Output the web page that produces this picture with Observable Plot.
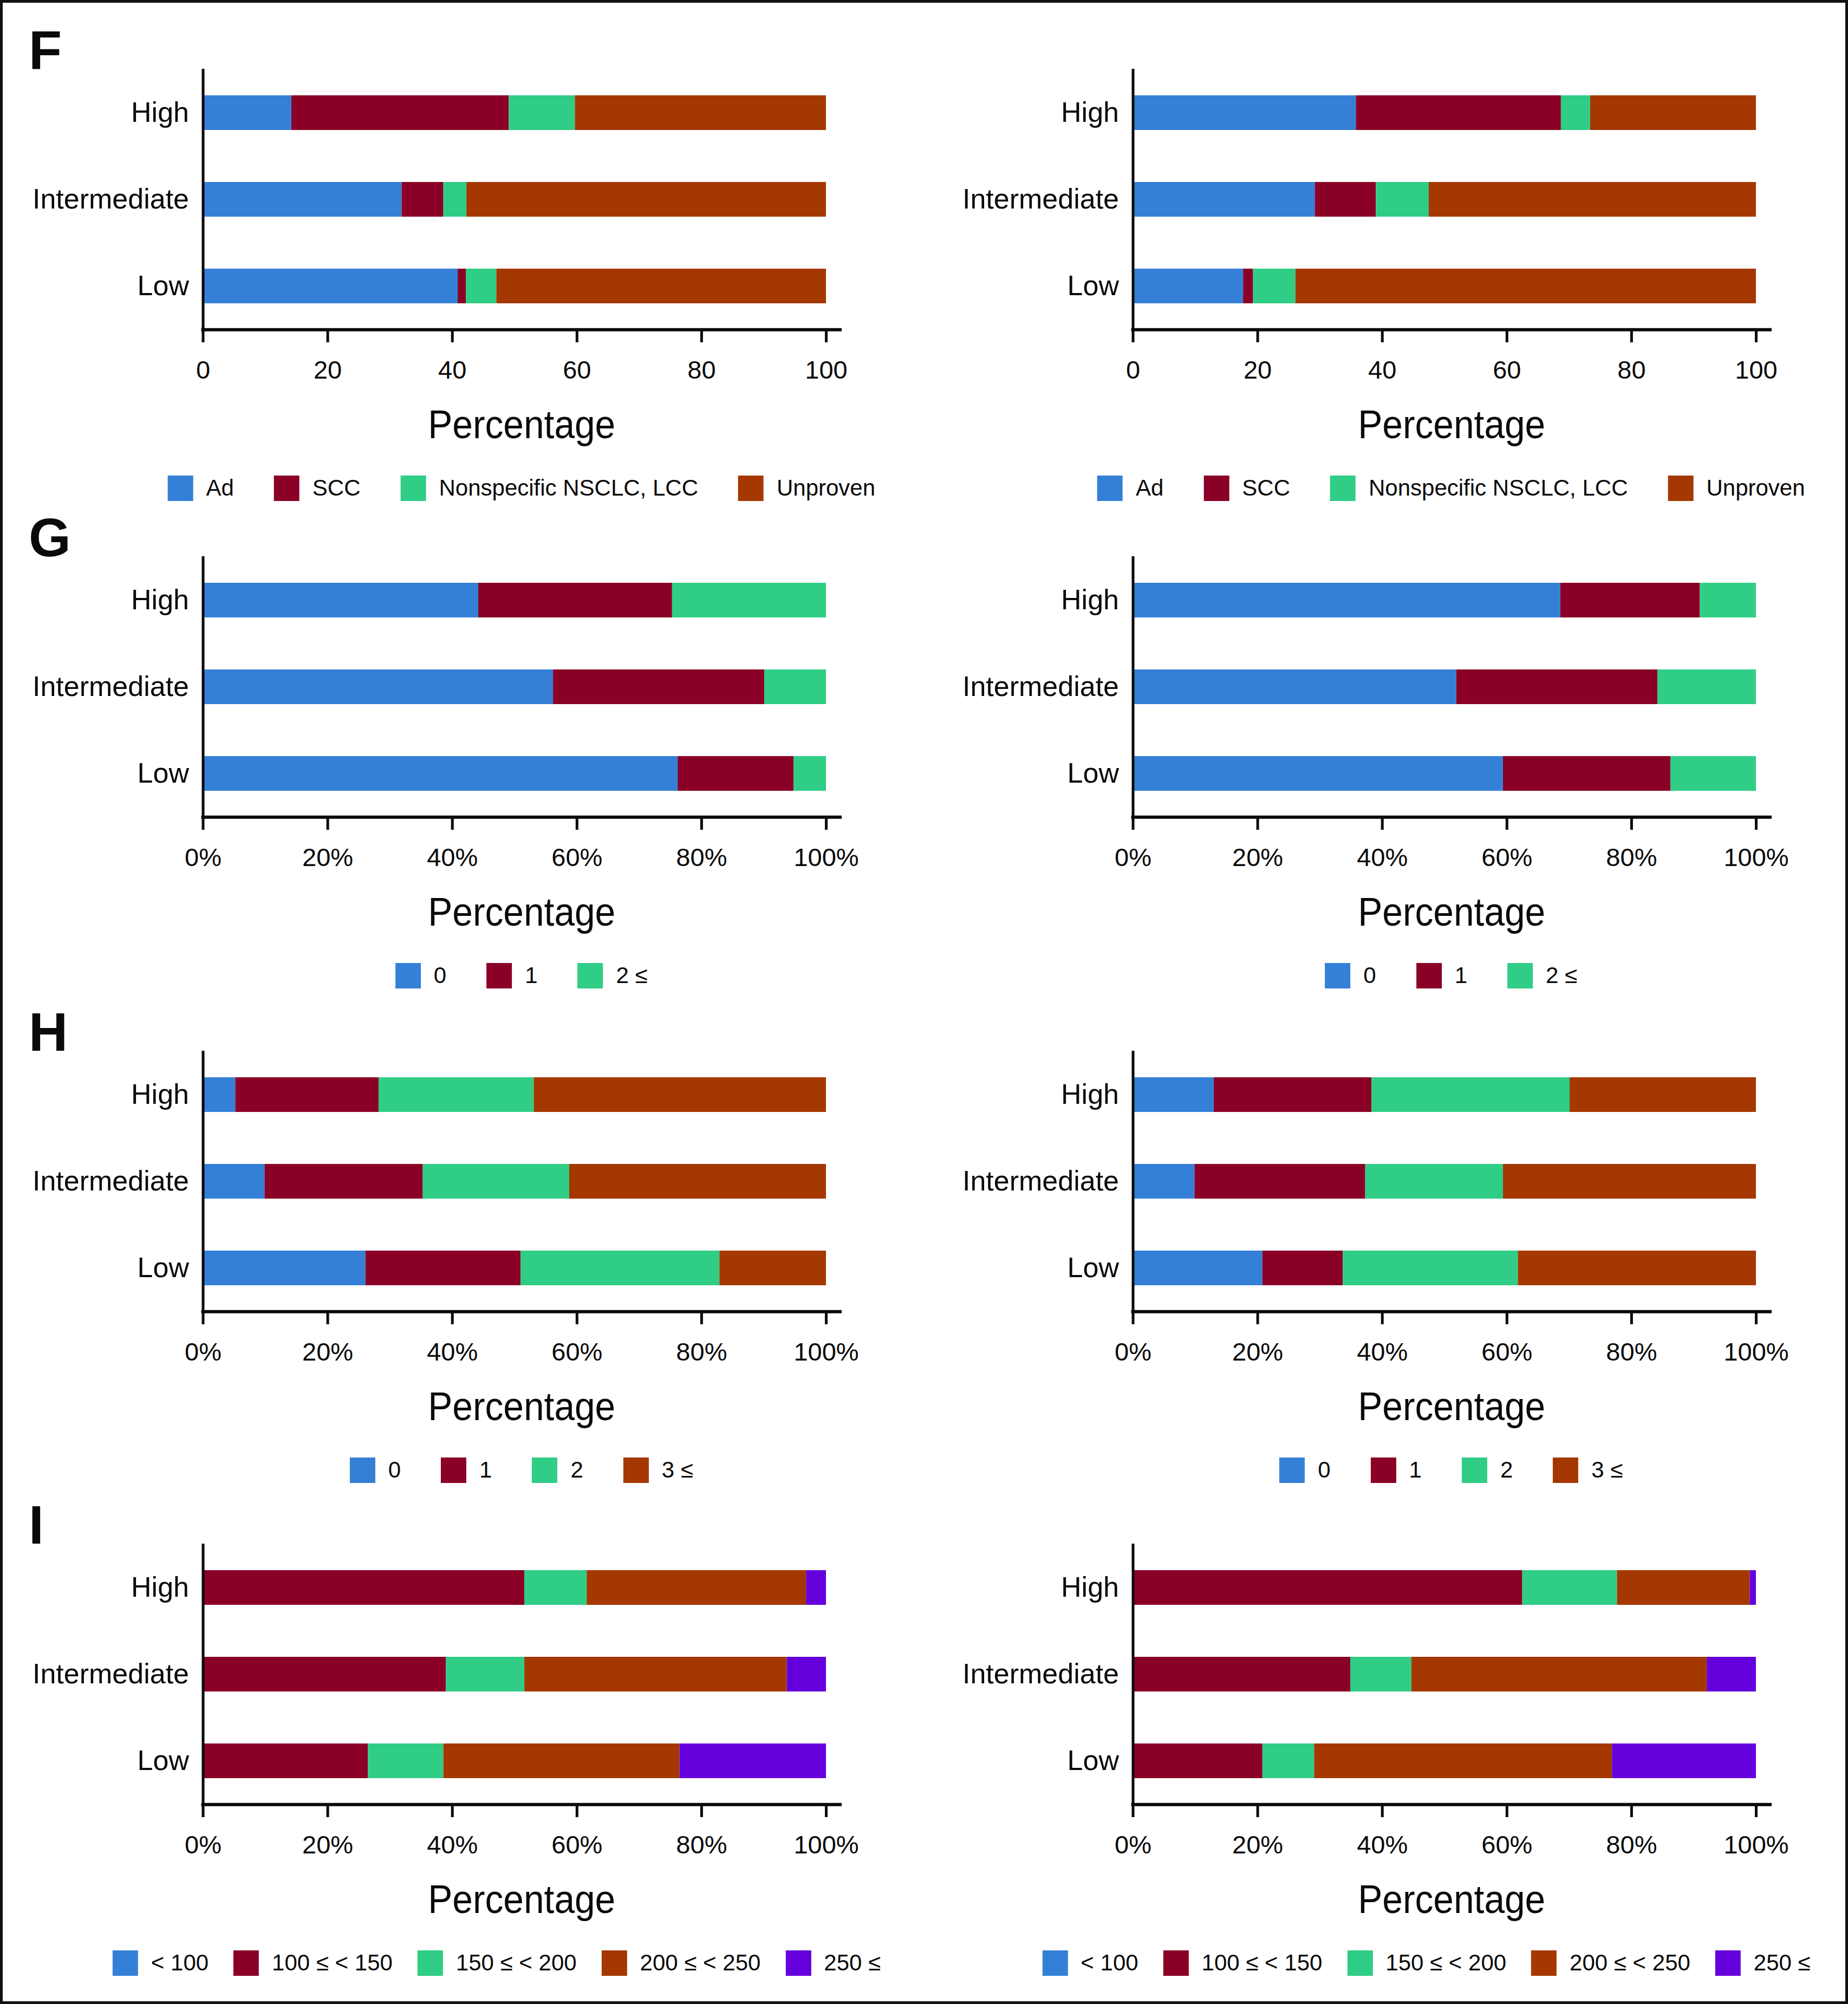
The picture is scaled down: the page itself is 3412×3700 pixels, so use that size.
<!DOCTYPE html>
<html>
<head>
<meta charset="utf-8">
<script src="https://cdn.jsdelivr.net/npm/d3@7"></script>
<script src="https://cdn.jsdelivr.net/npm/@observablehq/plot@0.6"></script>
<style>
html, body { margin: 0; padding: 0; background: #fff; }
#page { position: relative; width: 3412px; height: 3700px; overflow: hidden; background: #fff;
  font-family: "Liberation Sans", Arial, Helvetica, sans-serif; color: #0a0a0a; }
#frame { position: absolute; left: 0; top: 0; width: 3412px; height: 3700px; box-sizing: border-box;
  border: 5px solid #111; pointer-events: none; }
.pnl { position: absolute; }
.pnl svg g[aria-label^="y-axis"] text { font-size: 52px; }
.pnl svg g[aria-label^="x-axis"] line, .pnl svg g[aria-label^="x-axis"] path { stroke-width: 5px; stroke: #0a0a0a; }
.letter { position: absolute; font-weight: bold; font-size: 100px; line-height: 100px; }
.lgd { position: absolute; transform: translateX(-50%); width: max-content; white-space: nowrap; }
.lgd > div { font-family: "Liberation Sans", Arial, Helvetica, sans-serif !important; font-size: 42px !important;
  margin: 0 !important; min-height: 0 !important; flex-wrap: nowrap !important; color: #0a0a0a !important; }
.lgd [class$="-swatch"] { margin-right: 74px !important; }
.lgd.tight [class$="-swatch"] { margin-right: 46px !important; }
.lgd [class$="-swatch"]:last-child { margin-right: 0 !important; }
.lgd [class$="-swatch"] > svg { margin-right: 24px !important; }
</style>
</head>
<body>
<div id="page"><div id="frame"></div></div>
<script>
// ---------- data ----------
const groups = ["High", "Intermediate", "Low"];

const histCats = ["Ad", "SCC", "Nonspecific NSCLC, LCC", "Unproven"];
const metCats = ["0", "1", "2 ≤"];
const nodeCats = ["0", "1", "2", "3 ≤"];
const tmCats = ["< 100", "100 ≤ < 150", "150 ≤ < 200", "200 ≤ < 250", "250 ≤"];

// rows follow groups: High, Intermediate, Low
const fLeft  = [[14.2, 34.9, 10.6, 40.3], [31.9, 6.7, 3.7, 57.7], [40.9, 1.3, 4.9, 52.9]];
const fRight = [[35.8, 32.9, 4.7, 26.6], [29.2, 9.8, 8.5, 52.5], [17.7, 1.6, 6.8, 73.9]];
const gLeft  = [[44.2, 31.1, 24.7], [56.2, 33.9, 9.9], [76.2, 18.6, 5.2]];
const gRight = [[68.6, 22.4, 9.0], [51.9, 32.3, 15.8], [59.4, 26.9, 13.7]];
const hLeft  = [[5.2, 23.0, 24.9, 46.9], [9.9, 25.4, 23.5, 41.2], [26.1, 24.9, 31.9, 17.1]];
const hRight = [[13.0, 25.3, 31.8, 29.9], [9.9, 27.4, 22.1, 40.6], [20.8, 12.9, 28.1, 38.2]];
const iLeft  = [[0, 51.6, 10.0, 35.2, 3.2], [0, 39.0, 12.6, 42.1, 6.3], [0, 26.5, 12.1, 37.9, 23.5]];
const iRight = [[0, 62.5, 15.2, 21.3, 1.0], [0, 34.9, 9.8, 47.4, 7.9], [0, 20.8, 8.3, 47.8, 23.1]];

const palette = ["#3580d7", "#8b0026", "#2fcd85", "#a53800", "#6400dc"];
const xTicks = [0, 20, 40, 60, 80, 100];
const xLabel = "Percentage";

// ---------- layout ----------
const FONT = '"Liberation Sans", Arial, Helvetica, sans-serif';
const INK = "#0a0a0a";
const W = 1690, ML = 374.5, MR = 139, MT = 20, FH = 481, MB = 250;
const XMAX = 102.26;
const colOffsets = [0, 1716.5];
const frameCenter = (ML + (W - MR)) / 2;

const panels = [
  {letter: "F", cats: histCats, series: [fLeft, fRight], pct: false, axisTop: 127, tight: false, lc: frameCenter},
  {letter: "G", cats: metCats, series: [gLeft, gRight], pct: true, axisTop: 1027, tight: false, lc: frameCenter},
  {letter: "H", cats: nodeCats, series: [hLeft, hRight], pct: true, axisTop: 1940, tight: false, lc: frameCenter},
  {letter: "I", cats: tmCats, series: [iLeft, iRight], pct: true, axisTop: 2850, tight: true, lc: 917}
];

const page = document.getElementById("page");

function chart(rows, cats, pct) {
  const data = rows.flatMap((vals, i) => vals.map((v, j) => ({group: groups[i], cat: cats[j], value: v})));
  const svg = Plot.plot({
    width: W,
    height: MT + FH + MB,
    marginLeft: ML, marginRight: MR, marginTop: MT, marginBottom: MB,
    style: {fontFamily: FONT, fontSize: "47px", color: INK, background: "transparent", overflow: "visible"},
    x: {domain: [0, XMAX], ticks: xTicks, tickFormat: pct ? (d) => d + "%" : (d) => String(d),
        tickSize: 24, tickPadding: 33, label: null},
    y: {domain: groups, paddingInner: 0.6, paddingOuter: 0.3, tickSize: 0, tickPadding: 26, label: null},
    color: {domain: cats, range: palette.slice(0, cats.length)},
    marks: [
      Plot.barX(data, {x: "value", y: "group", fill: "cat"}),
      Plot.ruleX([0], {stroke: INK, strokeWidth: 5}),
      Plot.ruleY(["Low"], {x1: 0, x2: XMAX, stroke: INK, strokeWidth: 6, strokeLinecap: "square", dy: FH / 6}),
      Plot.text([xLabel], {text: (d) => d, frameAnchor: "bottom", dy: 200, fontSize: 74, fill: INK})
    ]
  });
  d3.select(svg).selectAll('g[aria-label="text"] text')
    .attr("textLength", 346).attr("lengthAdjust", "spacingAndGlyphs");
  return svg;
}

for (const p of panels) {
  const letter = document.createElement("div");
  letter.className = "letter";
  letter.textContent = p.letter;
  letter.style.left = "53px";
  letter.style.top = (p.axisTop - 85) + "px";
  page.appendChild(letter);

  p.series.forEach((rows, c) => {
    const wrap = document.createElement("div");
    wrap.className = "pnl";
    wrap.style.left = colOffsets[c] + "px";
    wrap.style.top = (p.axisTop - MT) + "px";
    wrap.appendChild(chart(rows, p.cats, p.pct));
    page.appendChild(wrap);

    const lg = document.createElement("div");
    lg.className = "lgd" + (p.tight ? " tight" : "");
    lg.style.left = (colOffsets[c] + p.lc) + "px";
    lg.style.top = (p.axisTop + FH + 269) + "px";
    lg.appendChild(Plot.legend({
      color: {type: "ordinal", domain: p.cats, range: palette.slice(0, p.cats.length)},
      swatchSize: 47,
      style: {fontFamily: FONT, fontSize: "42px", color: INK}
    }));
    page.appendChild(lg);
  });
}
page.appendChild(document.getElementById("frame"));
</script>
</body>
</html>
